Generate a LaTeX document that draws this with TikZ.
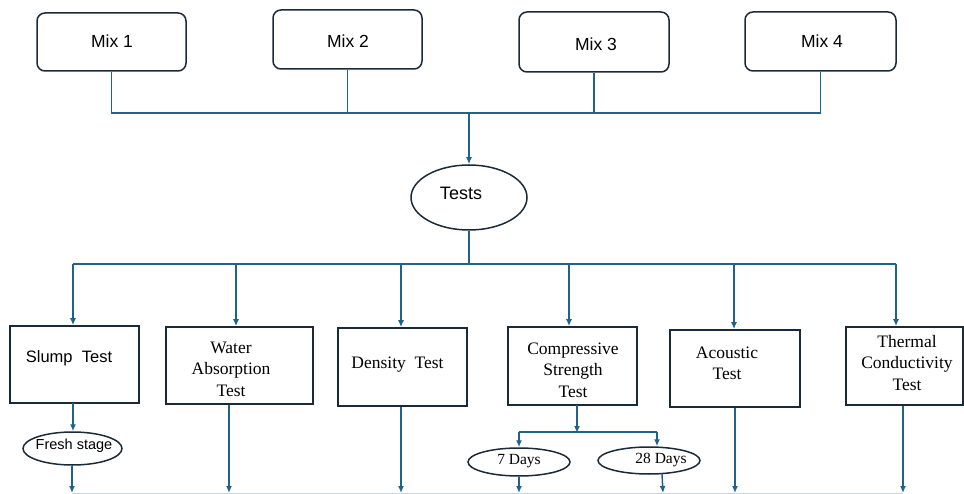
\documentclass[tikz,border=0pt]{standalone}
\usepackage{fontspec}
\setmainfont{Liberation Serif}
\newfontfamily\sansf{Liberation Sans}
\usetikzlibrary{shapes.geometric,arrows.meta}
\definecolor{conncol}{HTML}{1F6389}
\definecolor{edgecol}{HTML}{1B2A38}
\definecolor{faint}{HTML}{C9D5DD}
\tikzset{
  x=1pt,y=-1pt,
  mixbox/.style={draw=edgecol,line width=1.5pt,rounded corners=8pt,inner sep=0pt},
  testbox/.style={draw=edgecol,line width=1.7pt,inner sep=0pt},
  oval/.style={draw=edgecol,ellipse,line width=1.5pt,inner sep=0pt},
  conn/.style={draw=conncol,line width=1.5pt},
  arr/.style={conn,-{Latex[length=7pt,width=6pt]}},
  mixtxt/.style={font=\sansf\fontsize{17.5}{20}\selectfont,inner sep=0pt},
  sertxt/.style={font=\fontsize{17.5}{21.5}\selectfont,align=center,inner sep=0pt},
  daytxt/.style={font=\fontsize{15.5}{18}\selectfont,inner sep=0pt},
}
\begin{document}
\begin{tikzpicture}
\useasboundingbox (0,0) rectangle (964,494);
% Mix boxes
\node[mixbox,minimum width=149pt,minimum height=58pt] (m1) at (111.5,42) {};
\node[mixbox,minimum width=149pt,minimum height=59pt] (m2) at (347.5,39.5) {};
\node[mixbox,minimum width=150pt,minimum height=60pt] (m3) at (594,42) {};
\node[mixbox,minimum width=151pt,minimum height=59pt] (m4) at (820.5,41.5) {};
\node[mixtxt] (t1) at (112,41) {Mix 1};
\node[mixtxt] (t2) at (348,41) {Mix 2};
\node[mixtxt] (t3) at (596,44) {Mix 3};
\node[mixtxt] (t4) at (822,41) {Mix 4};
% Tests
\node[oval,minimum width=116pt,minimum height=65pt] (tests) at (469,197.5) {};
\node[font=\sansf\fontsize{18}{21}\selectfont,inner sep=0pt] (testst) at (461,193) {Tests};
\coordinate (hub) at (469,113);
\draw[conn] (m1.south) -- (m1.south |- hub) -- (m4.south |- hub) -- (m4.south);
\draw[conn] (m2.south) -- (m2.south |- hub);
\draw[conn] (m3.south) -- (m3.south |- hub);
\draw[arr] (hub) -- (tests.north);
% test boxes
\node[testbox,minimum width=129pt,minimum height=77pt] (slump) at (74.5,364.5) {};
\node[testbox,minimum width=147pt,minimum height=77pt] (water) at (239.5,365.5) {};
\node[testbox,minimum width=129pt,minimum height=78pt] (dens) at (402.5,367) {};
\node[testbox,minimum width=129pt,minimum height=78pt] (comp) at (572.5,366) {};
\node[testbox,minimum width=130pt,minimum height=77pt] (acou) at (735,368.5) {};
\node[testbox,minimum width=117pt,minimum height=78pt] (therm) at (904.5,366) {};
\node[font=\sansf\fontsize{16.5}{20}\selectfont,inner sep=0pt] (slumpt) at (69,358) {Slump\ \ Test};
\node[sertxt] (watert) at (231,369) {Water\\Absorption\\Test};
\node[sertxt] (denst) at (397.5,365) {Density\ \ Test};
\node[sertxt] (compt) at (573,370) {Compressive\\Strength\\Test};
\node[sertxt] (acout) at (727,363.5) {Acoustic\\Test};
\node[sertxt] (thermt) at (907,363) {Thermal\\Conductivity\\Test};
% bus below Tests
\coordinate (hub2) at (469,264);
\coordinate (b1) at (73,264);
\coordinate (b2) at (236,264);
\coordinate (b3) at (401,264);
\coordinate (b4) at (569,264);
\coordinate (b5) at (734,264);
\coordinate (b6) at (896,264);
\draw[conn] (tests.south) -- (hub2);
\draw[conn] (b1) -- (b6);
\draw[arr] (b1) -- (b1 |- slump.north);
\draw[arr] (b2) -- (b2 |- water.north);
\draw[arr] (b3) -- (b3 |- dens.north);
\draw[arr] (b4) -- (b4 |- comp.north);
\draw[arr] (b5) -- (b5 |- acou.north);
\draw[arr] (b6) -- (b6 |- therm.north);
% fresh stage
\node[oval,minimum width=99pt,minimum height=33pt] (fresh) at (72.5,448.5) {};
\node[font=\sansf\fontsize{14.5}{17}\selectfont,inner sep=0pt] (fresht) at (74,446) {Fresh stage};
\draw[arr] (73,403) coordinate (s1) -- (s1 |- fresh.north);
% days
\node[oval,minimum width=102pt,minimum height=28pt] (d7) at (519,462) {};
\node[oval,minimum width=102pt,minimum height=27pt] (d28) at (649,460.5) {};
\node[daytxt] (d7t) at (519,461) {7 Days};
\node[daytxt] (d28t) at (661,460) {28 Days};
\coordinate (c1) at (577,405);
\coordinate (c2) at (577,432);
\coordinate (cl) at (519,432);
\coordinate (cr) at (657,432);
\draw[arr] (c1) -- ([yshift=-1pt]c2);
\draw[conn] (cl) -- (cr);
\draw[arr] (cl) -- (cl |- d7.north);
\draw[arr] (cr) -- (cr |- d28.north);
% bottom arrows
\coordinate (e1) at (72,493);
\coordinate (e2) at (229,493);
\coordinate (e3) at (401,493);
\coordinate (e4) at (519,493);
\coordinate (e5) at (663,493);
\coordinate (e6) at (735,493);
\coordinate (e7) at (903,493);
\draw[faint,line width=0.8pt] (e1) -- (e7);
\draw[arr] (e1 |- fresh.south) -- (e1);
\draw[arr] (e2 |- water.south) -- (e2);
\draw[arr] (e3 |- dens.south) -- (e3);
\draw[arr] (e4 |- d7.south) -- (e4);
\draw[arr] (662,474) -- (e5);
\draw[arr] (e6 |- acou.south) -- (e6);
\draw[arr] (e7 |- therm.south) -- (e7);
\end{tikzpicture}
\end{document}
